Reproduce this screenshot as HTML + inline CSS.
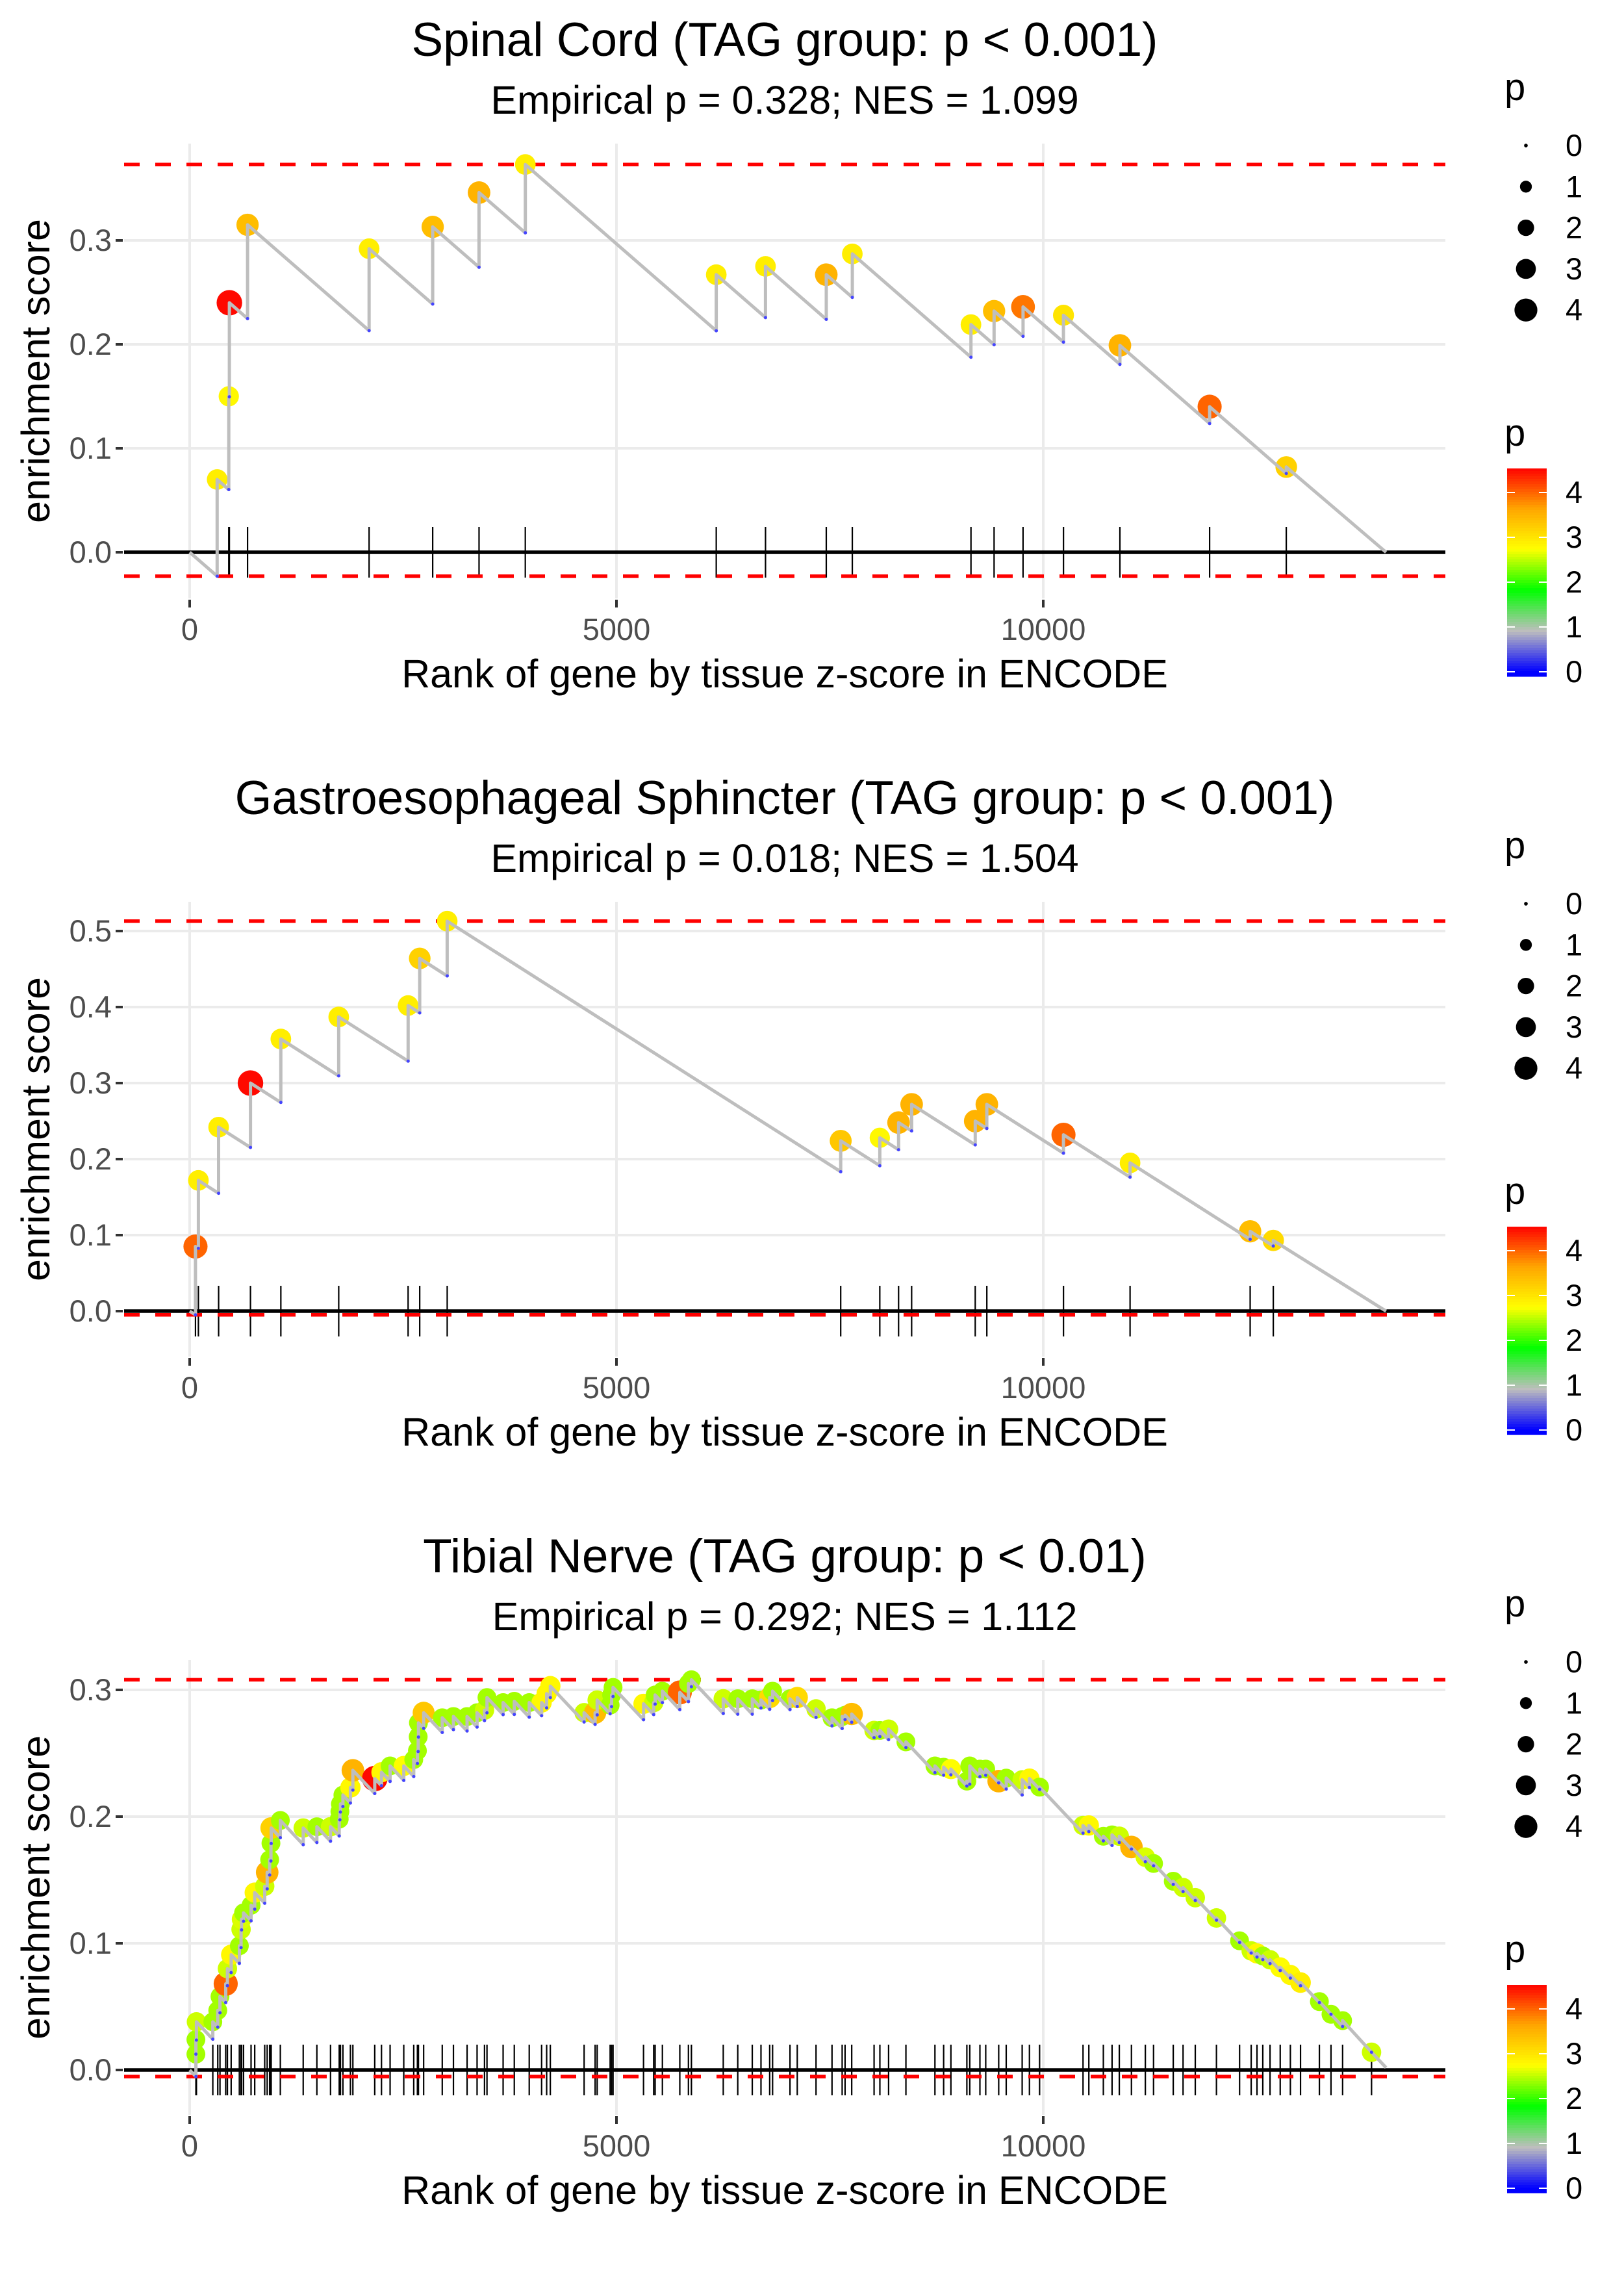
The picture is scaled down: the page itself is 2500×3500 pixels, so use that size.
<!DOCTYPE html>
<html><head><meta charset="utf-8"><style>
html,body{margin:0;padding:0;background:#fff}
svg{display:block}
text{font-family:"Liberation Sans",Arial,sans-serif}
</style></head><body>
<svg id="chart" width="2500" height="3500" viewBox="0 0 2500 3500" xmlns="http://www.w3.org/2000/svg">
<rect width="2500" height="3500" fill="#fff"/>
</svg>
<script>
// ---------- data ----------
const p1Titles = ["Spinal Cord (TAG group: p < 0.001)", "Empirical p = 0.328; NES = 1.099"];
const p1Ranks = [322,458,465,678,2102,2847,3390,3932,6169,6746,7458,7763,9153,9424,9763,10237,10898,11949,12847];
const p1ES = [0.07,0.15,0.24,0.315,0.292,0.313,0.346,0.373,0.267,0.275,0.267,0.287,0.219,0.232,0.236,0.228,0.199,0.14,0.082];
const p1P = [2.9,2.8,4.5,3.4,2.9,3.4,3.5,2.9,2.9,2.9,3.5,2.9,2.9,3.4,3.9,3.0,3.5,4.0,3.2];
const p1YTicks = ["0.0","0.1","0.2","0.3"];

const p2Titles = ["Gastroesophageal Sphincter (TAG group: p < 0.001)", "Empirical p = 0.018; NES = 1.504"];
const p2Ranks = [68,102,339,712,1068,1746,2559,2695,3017,7627,8085,8305,8458,9203,9339,10237,11017,12424,12695];
const p2ES = [0.085,0.172,0.242,0.30,0.358,0.387,0.402,0.464,0.513,0.224,0.228,0.248,0.272,0.25,0.272,0.232,0.195,0.105,0.093];
const p2P = [4.0,2.9,2.9,4.5,2.9,2.9,2.9,3.2,2.9,3.3,2.8,3.5,3.5,3.5,3.5,4.0,2.9,3.4,3.1];
const p2YTicks = ["0.0","0.1","0.2","0.3","0.4","0.5"];

const p3Titles = ["Tibial Nerve (TAG group: p < 0.01)", "Empirical p = 0.292; NES = 1.112"];
const p3Ranks = [73,73,79,271,329,355,422,442,486,582,602,608,631,719,762,879,908,937,952,955,1062,1330,1490,1650,1752,1760,1766,1795,1883,1912,2168,2247,2348,2508,2625,2668,2677,2680,2741,2959,3090,3250,3367,3454,3483,3672,3803,3978,4123,4182,4225,
4621,4750,4774,4926,4943,4960,5317,5436,5453,5538,5742,5843,5878,6251,6421,6591,6693,6795,6829,7033,7118,7338,7525,7644,7678,7756,8018,8086,8188,8391,8731,8833,8918,9105,9139,9258,9326,9478,
9566,9753,9838,9957,10466,10534,10704,10806,10891,11033,11196,11292,11523,11638,11781,12029,12300,12436,12504,12572,12657,12776,12895,13014,13235,13371,13507,13846];
const p3ES = [0.0125,0.024,0.038,0.038,0.047,0.058,0.068,0.080,0.091,0.098,0.111,0.119,0.124,0.130,0.140,0.145,0.156,0.166,0.179,0.191,0.197,0.191,0.192,0.192,0.198,0.204,0.210,0.217,0.223,0.2365,0.230,0.235,0.240,0.240,0.245,0.252,0.263,0.274,0.282,0.278,0.279,0.279,0.282,0.284,0.294,0.290,0.291,0.290,0.290,0.297,0.303,
0.282,0.282,0.292,0.288,0.296,0.302,0.289,0.290,0.296,0.299,0.298,0.305,0.308,0.293,0.293,0.293,0.292,0.294,0.299,0.293,0.294,0.285,0.278,0.279,0.280,0.281,0.268,0.268,0.269,0.259,0.240,0.239,0.2375,0.228,0.240,0.2375,0.2375,0.228,
0.2304,0.229,0.230,0.2233,0.193,0.193,0.1845,0.1856,0.1845,0.176,0.168,0.163,0.149,0.144,0.136,0.120,0.102,0.094,0.092,0.090,0.087,0.081,0.075,0.069,0.054,0.044,0.039,0.014];
const p3P = [2.4,2.4,2.55,2.4,2.4,2.4,4.0,2.55,2.8,2.4,2.55,2.6,2.4,2.4,2.8,2.55,3.5,2.4,2.4,3.2,2.4,2.55,2.4,2.55,2.4,2.4,2.4,2.4,2.8,3.5,4.5,2.8,2.4,2.75,2.4,2.4,2.4,2.4,3.3,2.4,2.4,2.4,2.4,2.55,2.4,2.4,2.4,2.4,2.8,2.8,2.8,
2.55,3.4,2.55,2.4,2.4,2.4,2.8,2.55,2.4,2.4,4.0,2.4,2.4,2.55,2.4,2.4,2.4,3.1,2.4,2.4,3.1,2.55,2.4,2.4,2.4,3.4,2.55,2.4,2.55,2.4,2.4,2.4,2.75,2.4,2.4,2.4,2.4,3.5,
2.4,2.55,2.8,2.4,2.55,2.8,2.4,2.4,2.55,3.5,2.6,2.4,2.4,2.55,2.55,2.55,2.4,2.55,2.8,2.4,2.55,2.75,2.8,2.9,2.4,2.4,2.4,2.55];
const p3YTicks = ["0.0","0.1","0.2","0.3"];

const xTickLabels = ["0","5000","10000"];
const sizeLegendValues = ["0","1","2","3","4"];
const colorLegendValues = ["0","1","2","3","4"];
const totalGenes = 14016;
const missStep = 0.0000715;

// ---------- layout ----------
const NS = "http://www.w3.org/2000/svg";
const svg = document.getElementById("chart");
const X0 = 292, XK = 0.1314, PL = 191, PR = 2225;
const xs = r => X0 + r * XK;
function mk(tag, attrs, parent) {
  const e = document.createElementNS(NS, tag);
  for (const k in attrs) e.setAttribute(k, attrs[k]);
  (parent || svg).appendChild(e);
  return e;
}
const stops = [[0,[0,0,255]],[0.91,[190,190,190]],[1.82,[0,255,0]],[2.73,[255,255,0]],[3.64,[255,165,0]],[4.55,[255,0,0]]];
function pColor(p) {
  if (p <= stops[0][0]) return "rgb(0,0,255)";
  for (let i = 1; i < stops.length; i++) {
    if (p <= stops[i][0]) {
      const t = (p - stops[i-1][0]) / (stops[i][0] - stops[i-1][0]);
      const a = stops[i-1][1], b = stops[i][1];
      return "rgb(" + a.map((v, j) => Math.round(v + (b[j] - v) * t)).join(",") + ")";
    }
  }
  return "rgb(255,0,0)";
}
const pRadius = p => Math.sqrt(9 + 84 * p);

const panels = [
  {titles: p1Titles, ranks: p1Ranks, es: p1ES, p: p1P, yt: p1YTicks, off: 0, y0: 850, k: 1600},
  {titles: p2Titles, ranks: p2Ranks, es: p2ES, p: p2P, yt: p2YTicks, off: 1167, y0: 2018, k: 1170},
  {titles: p3Titles, ranks: p3Ranks, es: p3ES, p: p3P, yt: p3YTicks, off: 2334, y0: 3186, k: 1950}
];

panels.forEach((P, pi) => {
  const g = mk("g", {});
  
  
  const ys = v => P.y0 - v * P.k;
  const top = 221 + P.off, bot = 921 + P.off;

  const t = mk("text", {x: 1208, y: 86 + P.off, "text-anchor": "middle", "font-size": 73, fill: "#000"}, g);
  t.textContent = P.titles[0];
  
  
  const st = mk("text", {x: 1208, y: 175 + P.off, "text-anchor": "middle", "font-size": 61, fill: "#000"}, g);
  st.textContent = P.titles[1];
  
  

  // grid
  P.yt.forEach(lbl => {
    const v = parseFloat(lbl), y = ys(v);
    const gl = mk("line", {x1: PL, x2: PR, y1: y, y2: y, stroke: "#ebebeb", "stroke-width": 4}, g);
    
    
    const tk = mk("line", {x1: 178, x2: 189, y1: y, y2: y, stroke: "#333", "stroke-width": 4}, g);
    
    
    const tl = mk("text", {x: 172, y: y + 16, "text-anchor": "end", "font-size": 47, fill: "#4d4d4d"}, g);
    tl.textContent = lbl;
    
    
  });
  xTickLabels.forEach(lbl => {
    const x = xs(parseFloat(lbl));
    const gl = mk("line", {x1: x, x2: x, y1: top, y2: bot, stroke: "#ebebeb", "stroke-width": 4}, g);
    
    
    const tk = mk("line", {x1: x, x2: x, y1: bot + 2, y2: bot + 14, stroke: "#333", "stroke-width": 4}, g);
    
    
    const tl = mk("text", {x: x, y: 985 + P.off, "text-anchor": "middle", "font-size": 47, fill: "#4d4d4d"}, g);
    tl.textContent = lbl;
    
    
  });
  const xt = mk("text", {x: 1208, y: 1058 + P.off, "text-anchor": "middle", "font-size": 61, fill: "#000"}, g);
  xt.textContent = "Rank of gene by tissue z-score in ENCODE";
  
  
  const cy = (top + bot) / 2;
  const yt = mk("text", {x: 0, y: 0, transform: "translate(76," + cy + ") rotate(-90)", "text-anchor": "middle", "font-size": 61, fill: "#000"}, g);
  yt.textContent = "enrichment score";
  
  

  // running ES path
  let prevR = 0, prevE = 0;
  const pathPts = [[0, 0]], bottoms = [];
  P.ranks.forEach((r, i) => {
    let b = prevE - missStep * (r - prevR);
    if (b > P.es[i]) b = P.es[i];
    bottoms.push([r, b]);
    pathPts.push([r, b], [r, P.es[i]]);
    prevR = r; prevE = P.es[i];
  });
  pathPts.push([totalGenes, Math.max(0, prevE - missStep * (totalGenes - prevR))]);
  const maxES = Math.max(...P.es);
  const minES = Math.min(0, ...bottoms.map(b => b[1]));

  const zl = mk("line", {x1: PL, x2: PR, y1: ys(0), y2: ys(0), stroke: "#000", "stroke-width": 5.5}, g);
  
  
  P.ranks.forEach(r => {
    const rl = mk("line", {x1: xs(r), x2: xs(r), y1: ys(0) - 39, y2: ys(0) + 39, stroke: "#000", "stroke-width": 2.2}, g);
    
    
  });
  [maxES, minES].forEach((v, j) => {
    const dl = mk("line", {x1: PL, x2: PR, y1: ys(v), y2: ys(v), stroke: "#ff0000", "stroke-width": 5.5, "stroke-dasharray": "24 24"}, g);
    
    
  });
  P.ranks.forEach((r, i) => {
    const c = mk("circle", {cx: xs(r), cy: ys(P.es[i]), r: pRadius(P.p[i]), fill: pColor(P.p[i])}, g);
    
    
  });
  const path = mk("path", {d: pathPts.map((q, i) => (i ? "L" : "M") + xs(q[0]).toFixed(1) + " " + ys(q[1]).toFixed(1)).join(" "), fill: "none", stroke: "#bebebe", "stroke-width": 5, "stroke-linejoin": "round"}, g);
  
  
  bottoms.forEach(b => {
    const c = mk("circle", {cx: xs(b[0]), cy: ys(b[1]), r: 2.5, fill: "#4444ff"}, g);
    
    
  });

  // size legend
  const lg = mk("g", {}, g);
  
  
  const lt = mk("text", {x: 2316, y: 154 + P.off, "font-size": 58, fill: "#000"}, lg);
  lt.textContent = "p";
  
  
  sizeLegendValues.forEach((lbl, i) => {
    const y = 224 + i * 63.3 + P.off;
    const d = mk("circle", {cx: 2349, cy: y, r: pRadius(parseFloat(lbl)) * 0.95, fill: "#000"}, lg);
    
    
    const tx = mk("text", {x: 2410, y: y + 16, "font-size": 47, fill: "#000"}, lg);
    tx.textContent = lbl;
    
    
  });
  // color legend
  const cg = mk("g", {}, g);
  
  
  const ct = mk("text", {x: 2316, y: 686 + P.off, "font-size": 58, fill: "#000"}, cg);
  ct.textContent = "p";
  
  
  const barTop = 721 + P.off, barBot = 1041 + P.off, zeroY = 1034 + P.off, perUnit = 69;
  const N = 80;
  for (let s = 0; s < N; s++) {
    const y1 = barTop + (barBot - barTop) * s / N;
    const v = (zeroY - (y1 + (barBot - barTop) / N / 2)) / perUnit;
    const r = mk("rect", {x: 2320, y: y1, width: 61, height: (barBot - barTop) / N + 0.6, fill: pColor(v)}, cg);
    
    
  }
  colorLegendValues.forEach(lbl => {
    const y = zeroY - parseFloat(lbl) * perUnit;
    const w1 = mk("line", {x1: 2320, x2: 2332, y1: y, y2: y, stroke: "#fff", "stroke-width": 2}, cg);
    
    
    const w2 = mk("line", {x1: 2369, x2: 2381, y1: y, y2: y, stroke: "#fff", "stroke-width": 2}, cg);
    
    
    const tx = mk("text", {x: 2410, y: y + 16, "font-size": 47, fill: "#000"}, cg);
    tx.textContent = lbl;
    
    
  });
});
</script>
</body></html>
